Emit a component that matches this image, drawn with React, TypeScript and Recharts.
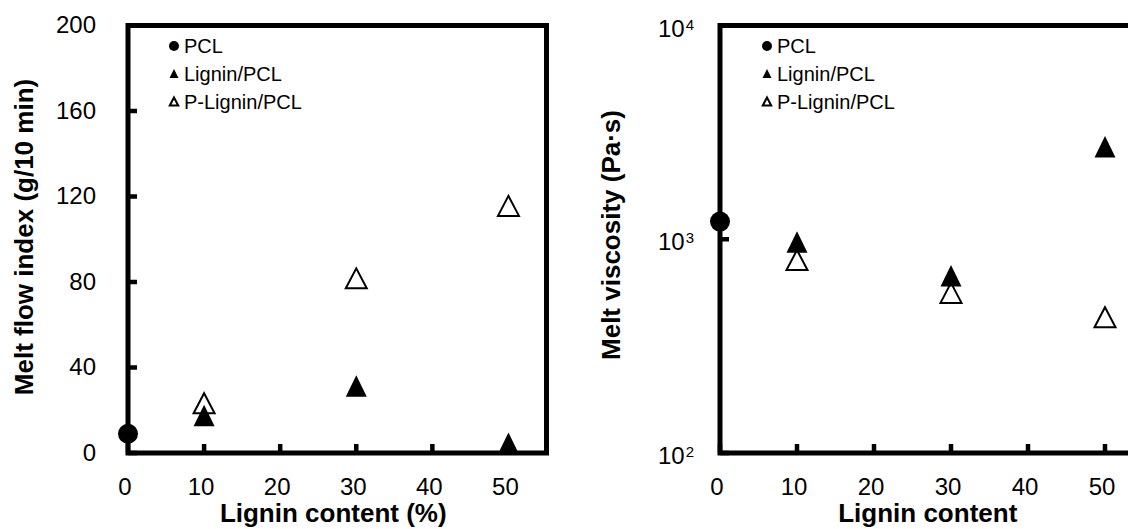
import React from 'react';
import { ScatterChart, Scatter, XAxis, YAxis, ReferenceArea, Legend, Label } from 'recharts';

const FONT = '"Liberation Sans", Arial, Helvetica, sans-serif';

// ---- data ----
const seriesNames = ['PCL', 'Lignin/PCL', 'P-Lignin/PCL'];
const pclContent = [0];
const ligninContent = [10, 30, 50];
const xTicks = [0, 10, 20, 30, 40, 50];
const mfiTicks = [0, 40, 80, 120, 160, 200];
const viscTicks = [100, 1000, 10000];

// Melt flow index (g/10 min)
const mfiPCL = [9];
const mfiLignin = [17.4, 31.2, 4.4];
const mfiPLignin = [23.3, 81.7, 115.6];

// Melt viscosity (Pa·s)
const viscPCL = [1210];
const viscLignin = [968, 673, 2700];
const viscPLignin = [799, 561, 432];

const toPoints = (xs: number[], ys: number[]) => xs.map((x, i) => ({ x, y: ys[i] }));

// ---- markers ----
const CircleShape = (p: any) => <circle cx={p.cx} cy={p.cy} r={10} fill="#000" />;
const FilledTriShape = (p: any) => (
  <path
    d={`M${p.cx},${p.cy - 11}L${p.cx + 10.5},${p.cy + 10.5}L${p.cx - 10.5},${p.cy + 10.5}Z`}
    fill="#000"
  />
);
const OpenTriShape = (p: any) => (
  <path
    d={`M${p.cx},${p.cy - 10}L${p.cx + 10.5},${p.cy + 10}L${p.cx - 10.5},${p.cy + 10}Z`}
    fill="none"
    stroke="#000"
    strokeWidth={2}
  />
);

const legendMarker = (name: string, x: number, y: number) => {
  if (name === 'PCL') return <circle cx={x} cy={y} r={5} fill="#000" />;
  if (name === 'Lignin/PCL')
    return <path d={`M${x},${y - 5}L${x + 4.5},${y + 4}L${x - 4.5},${y + 4}Z`} fill="#000" />;
  return (
    <path
      d={`M${x},${y - 4.5}L${x + 4.2},${y + 3.5}L${x - 4.2},${y + 3.5}Z`}
      fill="none"
      stroke="#000"
      strokeWidth={2}
    />
  );
};

const LegendContent = (props: any) => {
  const items = [...(props.payload || [])].sort(
    (a: any, b: any) => seriesNames.indexOf(a.value) - seriesNames.indexOf(b.value)
  );
  return (
    <svg width={180} height={95} style={{ display: 'block', overflow: 'visible' }}>
      {items.map((it: any, i: number) => {
        const y = 16 + i * 28;
        return (
          <g key={it.value}>
            {legendMarker(it.value, 14, y)}
            <text x={24} y={y} dy="0.35em" fontSize={20} fontFamily={FONT} fill="#000">
              {it.value}
            </text>
          </g>
        );
      })}
    </svg>
  );
};

// ---- ticks ----
const XTick = (p: any) => {
  const { x, y, payload } = p;
  return (
    <g>
      <line x1={x} y1={y} x2={x} y2={y - 9} stroke="#000" strokeWidth={4.5} />
      <text x={x - 3} y={y + 34} dy="0.35em" textAnchor="middle" fontSize={24} fontFamily={FONT} fill="#000">
        {payload.value}
      </text>
    </g>
  );
};

const MfiTick = (p: any) => {
  const { x, y, payload } = p;
  return (
    <g>
      <line x1={x} y1={y} x2={x + 9} y2={y} stroke="#000" strokeWidth={4.5} />
      <text x={x - 32} y={y + 7.5} textAnchor="end" fontSize={24} fontFamily={FONT} fill="#000">
        {payload.value}
      </text>
    </g>
  );
};

const ViscTick = (p: any) => {
  const { x, y, payload } = p;
  const exp = Math.round(Math.log10(payload.value));
  return (
    <g>
      <line x1={x} y1={y} x2={x + 9} y2={y} stroke="#000" strokeWidth={4.5} />
      <text x={x - 26} y={y + 11} textAnchor="end" fontSize={24} fontFamily={FONT} fill="#000">
        <tspan>10</tspan>
        <tspan fontSize={15} dx={1} dy={-7}>
          {exp}
        </tspan>
      </text>
    </g>
  );
};

const xTitle = (text: string) => (p: any) => {
  const vb = p.viewBox || { x: 0, width: 0 };
  return (
    <text
      x={vb.x + vb.width / 2 - 4}
      y={522}
      textAnchor="middle"
      fontSize={26}
      fontWeight="bold"
      fontFamily={FONT}
      fill="#000"
    >
      {text}
    </text>
  );
};

const yTitle = (text: string, cx: number, cy: number) => () => (
  <text
    x={cx}
    y={cy}
    transform={`rotate(-90 ${cx} ${cy})`}
    textAnchor="middle"
    dominantBaseline="central"
    fontSize={26}
    fontWeight="bold"
    fontFamily={FONT}
    fill="#000"
  >
    {text}
  </text>
);

export default function App() {
  return (
    <div
      style={{
        position: 'absolute',
        left: 0,
        top: 0,
        width: 1128,
        height: 529,
        overflow: 'hidden',
        background: '#fff',
      }}
    >
      <div style={{ position: 'absolute', left: 0, top: 0 }}>
        <ScatterChart width={564} height={529} margin={{ top: 25.5, right: 17.5, bottom: 0, left: 0 }}>
          <XAxis
            type="number"
            dataKey="x"
            domain={[0, 55]}
            ticks={xTicks}
            interval={0}
            height={76}
            axisLine={false}
            tickLine={false}
            tickSize={0}
            tickMargin={0}
            tick={<XTick />}
          >
            <Label content={xTitle('Lignin content (%)')} />
          </XAxis>
          <YAxis
            type="number"
            dataKey="y"
            domain={[0, 200]}
            ticks={mfiTicks}
            interval={0}
            width={128}
            axisLine={false}
            tickLine={false}
            tickSize={0}
            tickMargin={0}
            tick={<MfiTick />}
          >
            <Label content={yTitle('Melt flow index (g/10 min)', 24, 237)} />
          </YAxis>
          <ReferenceArea
            x1={0}
            x2={55}
            y1={0}
            y2={200}
            stroke="#000"
            strokeWidth={5}
            fill="none"
            fillOpacity={0}
            ifOverflow="visible"
          />
          <Legend
            layout="vertical"
            align="center"
            verticalAlign="middle"
            content={<LegendContent />}
            wrapperStyle={{ left: 160, top: 30, width: 180, height: 95 }}
          />
          <Scatter
            name={seriesNames[0]}
            data={toPoints(pclContent, mfiPCL)}
            shape={<CircleShape />}
            isAnimationActive={false}
          />
          <Scatter
            name={seriesNames[1]}
            data={toPoints(ligninContent, mfiLignin)}
            shape={<FilledTriShape />}
            isAnimationActive={false}
          />
          <Scatter
            name={seriesNames[2]}
            data={toPoints(ligninContent, mfiPLignin)}
            shape={<OpenTriShape />}
            isAnimationActive={false}
          />
        </ScatterChart>
      </div>
      <div style={{ position: 'absolute', left: 564, top: 0 }}>
        <ScatterChart width={600} height={529} margin={{ top: 25.5, right: 20.5, bottom: 0, left: 0 }}>
          <XAxis
            type="number"
            dataKey="x"
            domain={[0, 55]}
            ticks={xTicks}
            interval={0}
            height={76}
            axisLine={false}
            tickLine={false}
            tickSize={0}
            tickMargin={0}
            tick={<XTick />}
          >
            <Label content={xTitle('Lignin content')} />
          </XAxis>
          <YAxis
            type="number"
            dataKey="y"
            scale="log"
            domain={[100, 10000]}
            allowDataOverflow
            ticks={viscTicks}
            interval={0}
            width={156}
            axisLine={false}
            tickLine={false}
            tickSize={0}
            tickMargin={0}
            tick={<ViscTick />}
          >
            <Label content={yTitle('Melt viscosity (Pa·s)', 47, 235)} />
          </YAxis>
          <ReferenceArea
            x1={0}
            x2={55}
            y1={100}
            y2={10000}
            stroke="#000"
            strokeWidth={5}
            fill="none"
            fillOpacity={0}
            ifOverflow="visible"
          />
          <Legend
            layout="vertical"
            align="center"
            verticalAlign="middle"
            content={<LegendContent />}
            wrapperStyle={{ left: 189, top: 30, width: 180, height: 95 }}
          />
          <Scatter
            name={seriesNames[0]}
            data={toPoints(pclContent, viscPCL)}
            shape={<CircleShape />}
            isAnimationActive={false}
          />
          <Scatter
            name={seriesNames[1]}
            data={toPoints(ligninContent, viscLignin)}
            shape={<FilledTriShape />}
            isAnimationActive={false}
          />
          <Scatter
            name={seriesNames[2]}
            data={toPoints(ligninContent, viscPLignin)}
            shape={<OpenTriShape />}
            isAnimationActive={false}
          />
        </ScatterChart>
      </div>
    </div>
  );
}
